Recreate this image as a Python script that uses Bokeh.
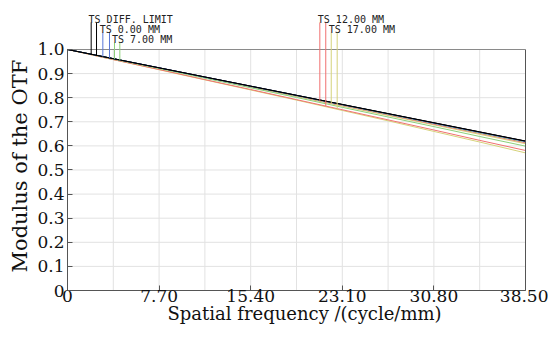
import numpy as np
from bokeh.plotting import figure
from bokeh.models import LinearAxis, FixedTicker, Range1d, Title
from bokeh.core.properties import value
from bokeh.embed import file_html
from bokeh.resources import INLINE

# ---- data ----
freq = [0.0, 3.85, 7.70, 11.55, 15.40, 19.25, 23.10, 26.95, 30.80, 34.65, 38.50]
diff_t = [1.000, 0.962, 0.924, 0.886, 0.848, 0.810, 0.772, 0.734, 0.696, 0.658, 0.620]
diff_s = [1.000, 0.962, 0.924, 0.886, 0.848, 0.810, 0.772, 0.734, 0.696, 0.658, 0.620]
f00_t = [1.000, 0.962, 0.924, 0.886, 0.848, 0.810, 0.771, 0.733, 0.695, 0.657, 0.619]
f00_s = [1.000, 0.962, 0.924, 0.885, 0.847, 0.809, 0.771, 0.733, 0.694, 0.656, 0.618]
f07_t = [1.000, 0.962, 0.923, 0.885, 0.846, 0.808, 0.770, 0.731, 0.693, 0.654, 0.616]
f07_s = [1.000, 0.960, 0.921, 0.881, 0.841, 0.801, 0.760, 0.720, 0.680, 0.639, 0.599]
f12_t = [1.000, 0.961, 0.923, 0.884, 0.845, 0.807, 0.768, 0.729, 0.690, 0.652, 0.613]
f12_s = [1.000, 0.958, 0.917, 0.875, 0.834, 0.792, 0.750, 0.708, 0.666, 0.623, 0.581]
f17_t = [1.000, 0.961, 0.922, 0.883, 0.844, 0.805, 0.765, 0.726, 0.687, 0.648, 0.609]
f17_s = [1.000, 0.958, 0.916, 0.874, 0.832, 0.790, 0.747, 0.704, 0.660, 0.616, 0.571]

series_names = ["TS DIFF. LIMIT", "TS 0.00 MM", "TS 7.00 MM", "TS 12.00 MM", "TS 17.00 MM"]
series_t = [diff_t, f00_t, f07_t, f12_t, f17_t]
series_s = [diff_s, f00_s, f07_s, f12_s, f17_s]
series_colors = ["#000000", "#5a78d8", "#8cd07a", "#f07070", "#d6d27a"]

# label callouts (frequency of leader lines, label start, label row)
leader_t_x = [1.99, 2.97, 3.95, 21.21, 22.17]
leader_s_x = [2.44, 3.53, 4.40, 21.71, 22.67]
label_x = [1.77, 2.71, 3.74, 21.04, 21.96]
label_row = [0, 1, 2, 0, 1]
row_baseline = [1.124, 1.0825, 1.041]
row_leader_top = [1.112, 1.0705, 1.029]

x_ticks = [0.0, 7.70, 15.40, 23.10, 30.80, 38.50]
x_tick_labels = ["0", "7.70", "15.40", "23.10", "30.80", "38.50"]
x_grid = [0.0, 3.85, 7.70, 11.55, 15.40, 19.25, 23.10, 26.95, 30.80, 34.65, 38.50]
y_ticks = [0.0, 0.1, 0.2, 0.3, 0.4, 0.5, 0.6, 0.7, 0.8, 0.9, 1.0]
y_tick_labels = ["0", "0.1", "0.2", "0.3", "0.4", "0.5", "0.6", "0.7", "0.8", "0.9", "1.0"]
x_title = "Spatial frequency /(cycle/mm)"
y_title = "Modulus of the OTF"

Y_TOP = 1.1618

p = figure(width=548, height=337, output_backend="svg", toolbar_location=None,
           x_range=Range1d(0, 38.5), y_range=Range1d(0, Y_TOP),
           min_border_left=67, min_border_right=23, min_border_top=10, min_border_bottom=47)
p.outline_line_color = None
p.xgrid.visible = False
p.ygrid.visible = False
p.background_fill_color = "white"
p.border_fill_color = "white"

serif = "DejaVu Serif"

# manual grid (stops at y = 1.0)
p.segment(x0=x_grid, y0=[0.0] * len(x_grid), x1=x_grid, y1=[1.0] * len(x_grid),
          line_color="#e2e2e2", line_width=1)
p.segment(x0=[0.0] * len(y_ticks), y0=y_ticks, x1=[38.5] * len(y_ticks), y1=y_ticks,
          line_color="#e2e2e2", line_width=1)
# top border of the frame
p.segment(x0=[0.0], y0=[1.0], x1=[38.5], y1=[1.0], line_color="#8a8a8a", line_width=1.2)

# axes
for ax in (p.xaxis[0], p.yaxis[0]):
    ax.axis_line_color = "#555555"
    ax.major_tick_line_color = "#555555"
    ax.major_tick_in = 5
    ax.major_tick_out = 0
    ax.minor_tick_line_color = None
    ax.major_label_text_font = serif
    ax.major_label_text_font_size = "17px"
    ax.major_label_text_color = "#111111"
p.xaxis[0].bounds = (0, 38.5)
p.yaxis[0].bounds = (0, 1)

p.xaxis[0].ticker = FixedTicker(ticks=x_ticks)
p.xaxis[0].major_label_overrides = {t: l for t, l in zip(x_ticks, x_tick_labels)}
p.xaxis[0].major_label_standoff = -1

p.yaxis[0].ticker = FixedTicker(ticks=y_ticks)
p.yaxis[0].major_label_overrides = {t: l for t, l in zip(y_ticks, y_tick_labels)}
p.yaxis[0].major_label_standoff = 3

right = LinearAxis(bounds=(0, 1), ticker=FixedTicker(ticks=[]), axis_line_color="#555555",
                   major_tick_in=0, major_tick_out=0, minor_tick_in=0, minor_tick_out=0,
                   major_label_text_font_size="0px", major_label_standoff=0)
p.add_layout(right, "right")

# axis titles as side titles (so they can be positioned like the reference)
p.add_layout(Title(text=x_title, align="left", offset=100, standoff=-7,
                   text_font=serif, text_font_size="18px", text_font_style="normal",
                   text_color="#111111"), "below")
p.add_layout(Title(text=y_title, align="left", offset=18, standoff=6,
                   text_font=serif, text_font_size="21px", text_font_style="normal",
                   text_color="#111111"), "left")

# curves (draw lower-priority colours first, black on top)
for i in reversed(range(len(series_names))):
    p.line(freq, series_s[i], line_color=series_colors[i], line_width=1)
    p.line(freq, series_t[i], line_color=series_colors[i], line_width=1)

# callout leader lines and labels
for i, name in enumerate(series_names):
    r = label_row[i]
    xs = [leader_t_x[i], leader_s_x[i]]
    ends = [float(np.interp(leader_t_x[i], freq, series_t[i])),
            float(np.interp(leader_s_x[i], freq, series_s[i]))]
    p.segment(x0=xs, y0=[row_leader_top[r]] * 2, x1=xs, y1=ends,
              line_color=series_colors[i], line_width=1)
    p.text(x=[label_x[i]], y=[row_baseline[r]], text=[name],
           text_font=value("DejaVu Sans Mono"), text_font_size="10px",
           text_color="#222222", text_baseline="alphabetic", text_align="left")

open("out.html", "w").write(file_html(p, INLINE))
